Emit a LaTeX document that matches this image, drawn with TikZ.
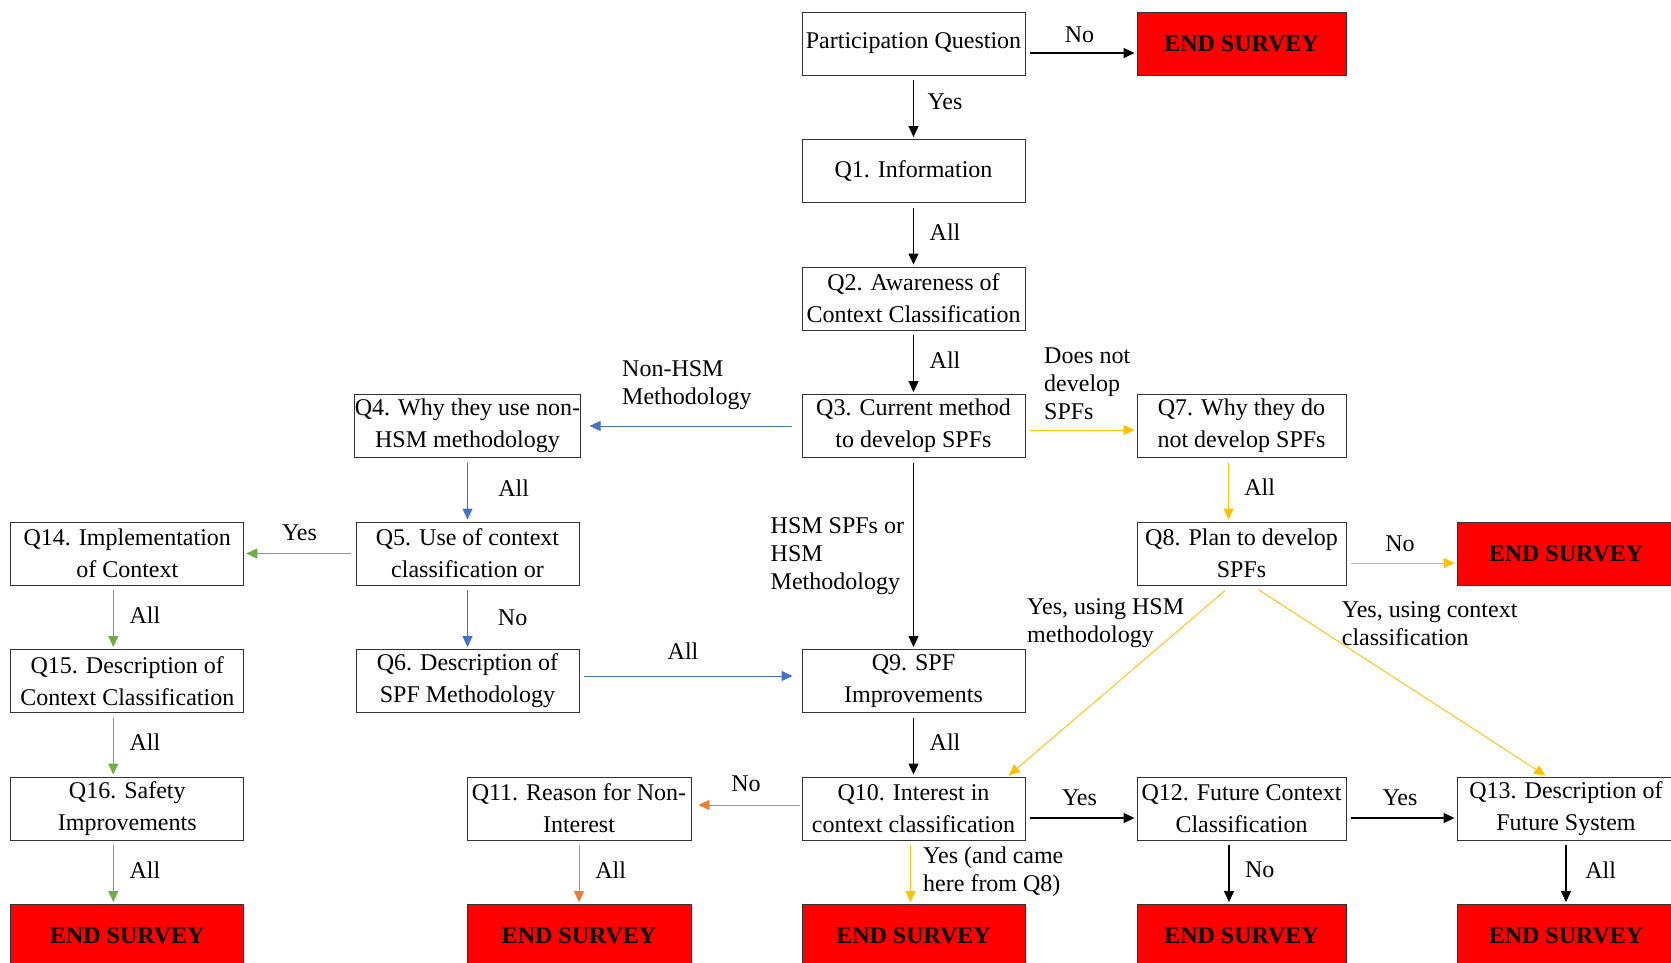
\documentclass[tikz,border=0pt]{standalone}
\usepackage{fontspec}
\setmainfont{Liberation Serif}
\usetikzlibrary{arrows.meta}

\definecolor{endred}{HTML}{FF0000}
\definecolor{flowblue}{HTML}{4472C4}
\definecolor{flowgreen}{HTML}{70AD47}
\definecolor{floworange}{HTML}{ED7D31}
\definecolor{flowyellow}{HTML}{FFC000}

\begin{document}
\begin{tikzpicture}[
  x=1pt, y=-1pt,
  box/.style={draw=black!80, line width=0.9pt, minimum height=63pt,
    inner sep=0pt, align=center, font=\fontsize{24}{32}\selectfont},
  endbox/.style={box, fill=endred, font=\fontsize{24}{32}\selectfont\bfseries},
  lbl/.style={inner sep=0pt, align=left, font=\fontsize{24}{28}\selectfont},
  flow/.style={-{Triangle[length=11pt,width=10pt]}, line width=0.9pt,
    shorten <=5pt, shorten >=2pt},
  blk/.style={flow, black, line width=1.1pt},
  blu/.style={flow, flowblue},
  grn/.style={flow, flowgreen},
  org/.style={flow, floworange},
  ylw/.style={flow, flowyellow}
]

\useasboundingbox (0,0) rectangle (1671,963);

% ------------------------------------------------------------
% Main column
% ------------------------------------------------------------
\node[box, minimum width=223pt] (pq) at (913.5,43.5) {Participation Question};
\node[endbox, minimum width=209pt] (endpq) at (1241.5,43.5) {END SURVEY};
\node[box, minimum width=223pt] (q1) at (913.5,171) {Q1. Information};
\node[box, minimum width=223pt] (q2) at (913.5,298.5) {Q2. Awareness of\\Context Classification};
\node[box, minimum width=223pt] (q3) at (913.5,426) {Q3. Current method\\to develop SPFs};
\node[box, minimum width=223pt] (q9) at (913.5,681) {Q9. SPF\\Improvements};
\node[box, minimum width=223pt] (q10) at (913.5,808.5) {Q10. Interest in\\context classification};
\node[endbox, minimum width=223pt] (end10) at (913.5,936) {END SURVEY};

% ------------------------------------------------------------
% Non-HSM branch
% ------------------------------------------------------------
\node[box, minimum width=223pt] (q4) at (467.5,426) {Q4. Why they use non-\\HSM methodology};
\node[box, minimum width=223pt] (q5) at (467.5,553.5) {Q5. Use of context\\classification or};
\node[box, minimum width=223pt] (q6) at (467.5,681) {Q6. Description of\\SPF Methodology};
\node[box, minimum width=224pt] (q11) at (579,808.5) {Q11. Reason for Non-\\Interest};
\node[endbox, minimum width=224pt] (end11) at (579,936) {END SURVEY};

\node[box, minimum width=233pt] (q14) at (127.3,553.5) {Q14. Implementation\\of Context};
\node[box, minimum width=233pt] (q15) at (127.3,681) {Q15. Description of\\Context Classification};
\node[box, minimum width=233pt] (q16) at (127.3,808.5) {Q16. Safety\\Improvements};
\node[endbox, minimum width=233pt] (end16) at (127.3,936) {END SURVEY};

% ------------------------------------------------------------
% No SPFs branch
% ------------------------------------------------------------
\node[box, minimum width=209pt] (q7) at (1241.5,426) {Q7. Why they do\\not develop SPFs};
\node[box, minimum width=209pt] (q8) at (1241.5,553.5) {Q8. Plan to develop\\SPFs};
\node[endbox, minimum width=218pt] (end8) at (1566,553.5) {END SURVEY};
\node[box, minimum width=209pt] (q12) at (1241.5,808.5) {Q12. Future Context\\Classification};
\node[endbox, minimum width=209pt] (end12) at (1241.5,936) {END SURVEY};
\node[box, minimum width=218pt] (q13) at (1566,808.5) {Q13. Description of\\Future System};
\node[endbox, minimum width=218pt] (end13) at (1566,936) {END SURVEY};

% ------------------------------------------------------------
% Connectors
% ------------------------------------------------------------
\draw[blk] ([yshift=-9.5pt]pq.east) -- ([yshift=-9.5pt]endpq.west);
\draw[blk] (pq) -- (q1);
\draw[blk] (q1) -- (q2);
\draw[blk] (q2) -- (q3);
\draw[blk] (q3) -- (q9);
\draw[blk] (q9) -- (q10);
\draw[blk] ([yshift=-9.5pt]q10.east) -- ([yshift=-9.5pt]q12.west);
\draw[blk] ([yshift=-9.5pt]q12.east) -- ([yshift=-9.5pt]q13.west);
\draw[blk] ([xshift=-12.5pt]q12.south) -- ([xshift=-12.5pt]end12.north);
\draw[blk] (q13) -- (end13);

\draw[blu, shorten <=10pt, shorten >=9pt] (q3) -- (q4);
\draw[blu] (q4) -- (q5);
\draw[blu] (q5) -- (q6);
\draw[blu, shorten >=9pt] ([yshift=5pt]q6.east) -- ([yshift=5pt]q9.west);

\draw[grn] (q5) -- (q14);
\draw[grn] ([xshift=-14pt]q14.south) -- ([xshift=-14pt]q15.north);
\draw[grn] ([xshift=-14pt]q15.south) -- ([xshift=-14pt]q16.north);
\draw[grn] ([xshift=-14pt]q16.south) -- ([xshift=-14pt]end16.north);

\draw[org, shorten <=2pt, shorten >=7pt] ([yshift=3.5pt]q10.west) -- ([yshift=3.5pt]q11.east);
\draw[org] (q11) -- (end11);

\draw[ylw] ([yshift=-4pt]q3.east) -- ([yshift=-4pt]q7.west);
\draw[ylw] ([xshift=-13pt]q7.south) -- ([xshift=-13pt]q8.north);
\draw[ylw] ([yshift=-9.5pt]q8.east) -- ([yshift=-9.5pt]end8.west);
\draw[ylw, shorten <=8pt] ([xshift=-10.5pt]q8.south) -- ([xshift=-18pt]q10.north east);
\draw[ylw, shorten <=8pt] ([xshift=10.5pt]q8.south) -- ([xshift=-19pt]q13.north);
\draw[ylw] ([xshift=-3pt]q10.south) -- ([xshift=-3pt]end10.north);

% ------------------------------------------------------------
% Labels
% ------------------------------------------------------------
\node[lbl] at (1079.5,35) {No};
\node[lbl] at (945,102) {Yes};
\node[lbl] at (945,232) {All};
\node[lbl] at (945,360) {All};
\node[lbl, anchor=west] at (622,385) {Non-HSM\\Methodology};
\node[lbl, anchor=west] at (1044,384) {Does not\\develop\\SPFs};
\node[lbl, anchor=west] at (770.5,556) {HSM SPFs or\\HSM\\Methodology};
\node[lbl] at (513.7,488) {All};
\node[lbl] at (299.5,533) {Yes};
\node[lbl] at (512.6,618) {No};
\node[lbl] at (683,651) {All};
\node[lbl] at (1259.7,487) {All};
\node[lbl] at (1400,543.5) {No};
\node[lbl, anchor=west] at (1027,623.5) {Yes, using HSM\\methodology};
\node[lbl, anchor=west] at (1341.7,623.5) {Yes, using context\\classification};
\node[lbl] at (145,615) {All};
\node[lbl] at (145,742) {All};
\node[lbl] at (145,870) {All};
\node[lbl] at (945,742) {All};
\node[lbl] at (746,784) {No};
\node[lbl] at (610.6,870) {All};
\node[lbl, anchor=west] at (923,872) {Yes (and came\\here from Q8)};
\node[lbl] at (1079.5,798) {Yes};
\node[lbl] at (1400,798) {Yes};
\node[lbl] at (1259.7,870) {No};
\node[lbl] at (1600.7,870) {All};

\end{tikzpicture}
\end{document}
